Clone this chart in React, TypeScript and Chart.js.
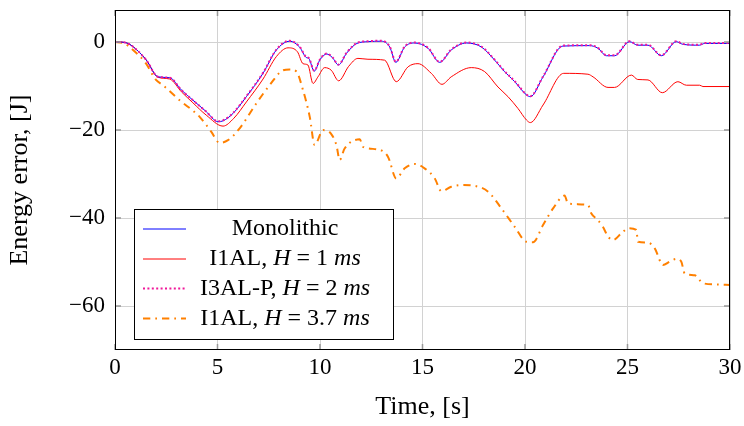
import React, { useEffect, useRef } from "react";
import { Chart, registerables } from "chart.js";
Chart.register(...registerables);

const FONT = "'Liberation Serif', 'Times New Roman', serif";

// Monolithic
const monoT = [0, 0.3, 0.63, 1.0, 1.53, 2.1, 2.67, 3.24, 3.8, 4.45, 5.02, 5.27, 5.76, 6.41, 7.22, 7.87, 8.52, 9.0, 9.33, 9.45, 9.72, 10.0, 10.33, 10.6, 10.9, 11.3, 11.8, 12.34, 13.0, 13.4, 13.7, 14.13, 14.62, 15.27, 15.84, 16.4, 17.14, 17.87, 18.52, 19.0, 19.5, 20.07, 20.26, 20.88, 21.85, 23.15, 23.56, 23.97, 24.37, 25.1, 25.5, 26.0, 26.65, 27.38, 27.7, 28.5, 28.77, 30];
const monoV = [0, 0, -0.3, -1.5, -4.1, -7.9, -8.1, -10.9, -13.2, -15.8, -18.1, -17.9, -16.2, -12.4, -7.1, -1.8, 0.2, -1.1, -3.5, -3.7, -6.6, -4.0, -2.7, -3.5, -5.2, -2.5, -0.3, 0.1, 0.2, -1.1, -4.6, -1.1, -0.2, -1.4, -4.6, -1.8, -0.2, -1.1, -4.1, -6.7, -9.0, -12.0, -12.4, -7.9, -0.9, -0.8, -1.4, -3.1, -3.1, 0.1, -0.7, -0.7, -3.1, 0.1, -0.5, -0.7, -0.3, -0.3];

// I1AL, H = 1 ms
const i1aT = [0, 0.3, 0.63, 1.0, 1.53, 2.1, 2.67, 3.24, 3.8, 4.45, 5.27, 5.8, 6.41, 7.22, 7.87, 8.44, 8.9, 9.17, 9.41, 9.66, 9.9, 10.23, 10.55, 10.91, 11.4, 11.85, 12.34, 13.15, 13.72, 14.3, 14.78, 15.43, 15.95, 16.4, 17.38, 18.03, 18.68, 19.17, 19.66, 20.07, 20.26, 20.88, 21.89, 23.07, 23.32, 24.05, 24.37, 25.19, 25.5, 26.0, 26.7, 27.46, 27.87, 28.52, 28.68, 30];
const i1aV = [0, 0, -0.3, -1.5, -4.1, -8.0, -8.4, -11.3, -13.8, -16.6, -19.1, -17.3, -13.6, -8.4, -3.3, -1.3, -2.2, -4.9, -5.2, -9.4, -7.9, -5.8, -6.4, -8.8, -5.5, -3.7, -3.9, -4.1, -9.0, -5.6, -4.9, -7.1, -9.6, -7.9, -5.8, -6.7, -10.2, -12.4, -15.1, -17.7, -18.3, -14.3, -7.1, -7.3, -7.9, -10.3, -10.3, -7.5, -8.5, -8.6, -11.5, -9.0, -9.8, -9.8, -10.1, -10.1];

// I3AL-P, H = 2 ms
const i3pT = [0, 0.3, 0.63, 1.0, 1.53, 2.1, 2.67, 3.24, 3.8, 4.45, 5.02, 5.27, 5.76, 6.41, 7.22, 7.87, 8.52, 9.0, 9.33, 9.45, 9.72, 10.0, 10.33, 10.6, 10.9, 11.3, 11.8, 12.34, 13.0, 13.4, 13.7, 14.13, 14.62, 15.27, 15.84, 16.4, 17.14, 17.87, 18.52, 19.0, 19.5, 20.07, 20.26, 20.88, 21.85, 23.15, 23.56, 23.97, 24.37, 25.1, 25.5, 26.0, 26.65, 27.38, 27.7, 28.5, 28.77, 30];
const i3pV = [0, 0, -0.3, -1.5, -4.1, -7.9, -8.1, -10.9, -13.2, -15.8, -18.0, -17.8, -16.1, -12.3, -7.0, -1.7, 0.3, -1.0, -3.4, -3.6, -6.5, -3.9, -2.6, -3.4, -5.1, -2.4, -0.2, 0.2, 0.3, -1.0, -4.5, -1.0, -0.1, -1.3, -4.5, -1.7, -0.1, -1.0, -4.0, -6.6, -8.9, -11.9, -12.3, -7.8, -0.8, -0.7, -1.3, -3.0, -3.0, 0.2, -0.6, -0.6, -3.0, 0.2, -0.4, -0.6, -0.2, -0.2];

// I1AL, H = 3.7 ms
const i1bT = [0, 0.4, 0.88, 1.5, 2.0, 2.34, 3.15, 4.13, 4.7, 5.1, 5.51, 6.08, 6.9, 7.54, 8.2, 8.52, 8.85, 9.17, 9.5, 9.74, 10.07, 10.15, 10.55, 10.8, 10.96, 11.2, 11.94, 12.1, 12.83, 13.32, 13.72, 14.13, 14.62, 15.1, 15.6, 15.92, 16.4, 16.9, 17.55, 18.2, 18.85, 19.5, 20.07, 20.39, 20.88, 21.37, 21.93, 22.1, 23.07, 23.23, 23.56, 23.8, 24.05, 24.29, 24.78, 25.07, 25.43, 25.51, 26.0, 26.33, 26.73, 27.06, 27.38, 27.62, 27.79, 28.28, 28.68, 29.33, 30];
const i1bV = [0, -0.2, -1.8, -4.8, -8.6, -9.8, -13.2, -17.0, -20.4, -22.9, -22.3, -19.6, -13.9, -9.8, -6.4, -6.2, -6.7, -10.9, -17.0, -23.4, -20.4, -20.0, -20.9, -23.4, -26.8, -24.2, -22.1, -23.8, -24.4, -26.1, -31.0, -28.7, -27.7, -28.7, -31.0, -33.9, -32.9, -32.5, -32.7, -34.0, -37.8, -42.0, -45.4, -45.5, -41.6, -37.8, -34.9, -36.7, -37.0, -38.9, -40.5, -42.0, -44.2, -45.0, -43.1, -42.3, -42.7, -45.4, -45.6, -46.9, -50.7, -49.9, -49.3, -49.9, -52.6, -53.0, -54.8, -55.1, -55.2];

const xTicks = [0, 5, 10, 15, 20, 25, 30];
const yTicks = [-60, -40, -20, 0];

const legendLabels = [
  [{ t: "Monolithic", i: false }],
  [{ t: "I1AL, ", i: false }, { t: "H", i: true }, { t: " = 1 ", i: false }, { t: "ms", i: true }],
  [{ t: "I3AL-P, ", i: false }, { t: "H", i: true }, { t: " = 2 ", i: false }, { t: "ms", i: true }],
  [{ t: "I1AL, ", i: false }, { t: "H", i: true }, { t: " = 3.7 ", i: false }, { t: "ms", i: true }],
];

const pts = (t: number[], v: number[]) => t.map((x, k) => ({ x, y: v[k] }));
const fmt = (v: number) => (v < 0 ? "\u2212" + Math.abs(v) : String(v));

const framePlugin = {
  id: "frame",
  afterDatasetsDraw(chart: any) {
    const { ctx, chartArea: a, scales } = chart;
    ctx.save();
    ctx.strokeStyle = "#999";
    ctx.lineWidth = 1.5;
    ctx.beginPath();
    for (const v of xTicks) {
      const x = scales.x.getPixelForValue(v);
      ctx.moveTo(x, a.top); ctx.lineTo(x, a.top + 6);
      ctx.moveTo(x, a.bottom); ctx.lineTo(x, a.bottom - 6);
    }
    for (const v of yTicks) {
      const y = scales.y.getPixelForValue(v);
      ctx.moveTo(a.left, y); ctx.lineTo(a.left + 6, y);
      ctx.moveTo(a.right, y); ctx.lineTo(a.right - 6, y);
    }
    ctx.stroke();
    ctx.strokeStyle = "#000";
    ctx.lineWidth = 1;
    ctx.strokeRect(a.left + 0.5, a.top + 0.5, a.right - a.left - 1, a.bottom - a.top - 1);
    ctx.restore();
  },
};

const legendPlugin = {
  id: "customLegend",
  afterDraw(chart: any) {
    const { ctx } = chart;
    const bx = 134, by = 209, bw = 259, bh = 130;
    ctx.save();
    ctx.fillStyle = "#fff";
    ctx.fillRect(bx, by, bw, bh);
    ctx.strokeStyle = "#000";
    ctx.lineWidth = 1;
    ctx.strokeRect(bx + 0.5, by + 0.5, bw, bh);
    const rows = [229, 259, 288.5, 318.5];
    [0, 1, 2, 3].forEach((di, r) => {
      const ds = chart.data.datasets[di];
      const y = rows[r];
      ctx.save();
      ctx.strokeStyle = ds.borderColor;
      ctx.lineWidth = ds.borderWidth;
      ctx.setLineDash(ds.borderDash || []);
      ctx.beginPath();
      ctx.moveTo(143, y);
      ctx.lineTo(186, y);
      ctx.stroke();
      ctx.restore();
      const segs = legendLabels[r];
      const fontOf = (it: boolean) => (it ? "italic " : "") + "24px " + FONT;
      let total = 0;
      for (const s of segs) { ctx.font = fontOf(s.i); total += ctx.measureText(s.t).width; }
      let x = 285 - total / 2;
      ctx.fillStyle = "#000";
      ctx.textBaseline = "middle";
      ctx.textAlign = "left";
      for (const s of segs) {
        ctx.font = fontOf(s.i);
        ctx.fillText(s.t, x, y);
        x += ctx.measureText(s.t).width;
      }
    });
    ctx.restore();
  },
};

export default function App() {
  const ref = useRef<HTMLCanvasElement>(null);
  useEffect(() => {
    document.body.style.margin = "0";
    const chart = new Chart(ref.current as HTMLCanvasElement, {
      type: "line",
      data: {
        datasets: [
          { label: "Monolithic", data: pts(monoT, monoV), borderColor: "#0000ff", borderWidth: 1, order: 2 },
          { label: "I1AL, H = 1 ms", data: pts(i1aT, i1aV), borderColor: "#ff0000", borderWidth: 1, order: 3 },
          { label: "I3AL-P, H = 2 ms", data: pts(i3pT, i3pV), borderColor: "#f0189a", borderWidth: 2, borderDash: [2, 2.4], order: 1 },
          { label: "I1AL, H = 3.7 ms", data: pts(i1bT, i1bV), borderColor: "#ff8000", borderWidth: 2, borderDash: [7.3, 5, 1.7, 5], order: 4 },
        ] as any,
      },
      options: {
        animation: false,
        responsive: false,
        maintainAspectRatio: false,
        layout: { padding: { top: 10, right: 14, left: 0, bottom: 0 } },
        plugins: { legend: { display: false }, tooltip: { enabled: false } },
        elements: { point: { radius: 0 }, line: { cubicInterpolationMode: "monotone", fill: false } },
        scales: {
          x: {
            type: "linear",
            min: 0,
            max: 30,
            afterBuildTicks: (s: any) => { s.ticks = xTicks.map((value) => ({ value })); },
            afterFit: (s: any) => { s.height = 76; s.paddingLeft = 0; s.paddingRight = 0; },
            grid: { color: "#d2d2d2", lineWidth: 1, drawTicks: false },
            border: { display: false },
            ticks: { font: { family: FONT, size: 23 }, color: "#000", padding: 4, maxRotation: 0, autoSkip: false, callback: (v: any) => fmt(Number(v)) },
            title: { display: true, text: "Time, [s]", font: { family: FONT, size: 26 }, color: "#000", padding: { top: 0, bottom: 3 } },
          },
          y: {
            type: "linear",
            min: -70,
            max: 7.3,
            afterBuildTicks: (s: any) => { s.ticks = yTicks.map((value) => ({ value })); },
            afterFit: (s: any) => { s.width = 115; s.paddingTop = 0; s.paddingBottom = 0; },
            grid: { color: "#d2d2d2", lineWidth: 1, drawTicks: false },
            border: { display: false },
            ticks: { font: { family: FONT, size: 23 }, color: "#000", padding: 10, autoSkip: false, callback: (v: any) => fmt(Number(v)) },
            title: { display: true, text: "Energy error, [J]", font: { family: FONT, size: 26 }, color: "#000", padding: { top: 5, bottom: 0 } },
          },
        },
      } as any,
      plugins: [framePlugin, legendPlugin],
    });
    return () => chart.destroy();
  }, []);
  return <canvas ref={ref} width={744} height={426} style={{ display: "block" }} />;
}
